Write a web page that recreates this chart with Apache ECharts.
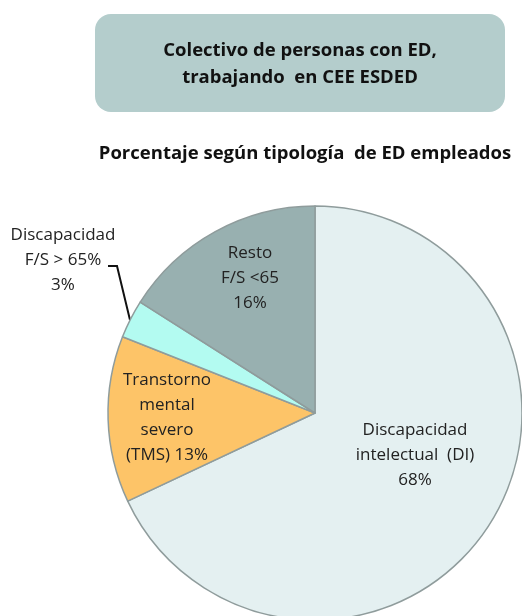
<!DOCTYPE html>
<html>
<head>
<meta charset="utf-8">
<script src="https://cdn.jsdelivr.net/npm/echarts@6/dist/echarts.min.js"></script>
<style>
  html, body { margin: 0; padding: 0; background: #fff; }
  #chart { width: 522px; height: 616px; }
</style>
</head>
<body>
<div id="chart"></div>
<script>
// data
const categories = [
  'Discapacidad\nintelectual  (DI)',
  'Transtorno\nmental\nsevero\n(TMS)',
  'Discapacidad\nF/S > 65%',
  'Resto\nF/S <65',
]
const values = [68, 13, 3, 16]
const colors = ['#e4f0f1', '#fdc468', '#b3fbf1', '#98b0b0']

// label anchor points (layout only)
const labelPos = [
  [415, 455],
  [167, 418],
  [63, 260],
  [250, 278],
]

const chart = echarts.init(document.getElementById('chart'))

const option = {
  backgroundColor: '#fff',
  animation: false,
  graphic: [
    {
      type: 'rect',
      shape: { x: 95, y: 14, width: 410, height: 98, r: 16 },
      style: { fill: '#b4cdcc' },
      z: 0,
    },
    {
      type: 'text',
      x: 300,
      y: 64,
      style: {
        text: 'Colectivo de personas con ED,\ntrabajando  en CEE ESDED',
        fill: '#111',
        font: 'bold 18.5px "Open Sans"',
        lineHeight: 27,
        align: 'center',
        verticalAlign: 'middle',
      },
      z: 1,
    },
  ],
  title: {
    text: 'Porcentaje según tipología  de ED empleados',
    left: 300,
    textAlign: 'center',
    top: 139,
    textStyle: {
      color: '#111',
      fontFamily: 'Open Sans',
      fontWeight: 'bold',
      fontSize: 18.5,
    },
  },
  series: [
    {
      type: 'pie',
      center: [315, 413],
      radius: 207,
      startAngle: 90,
      clockwise: true,
      itemStyle: {
        borderColor: '#8f9c9c',
        borderWidth: 1.5,
      },
      label: {
        show: true,
        position: 'inside',
        color: '#222',
        fontFamily: 'Open Sans',
        fontSize: 17,
        lineHeight: 25,
        align: 'center',
        overflow: 'none',
        formatter: (p) => {
          if (p.dataIndex === 1) return 'Transtorno\nmental\nsevero\n(TMS) ' + p.value + '%'
          return p.name + '\n' + p.value + '%'
        },
      },
      labelLine: { show: false },
      labelLayout: (params) => {
        const pos = labelPos[params.dataIndex]
        const res = { x: pos[0], y: pos[1], align: 'center', verticalAlign: 'middle' }
        if (params.dataIndex === 2) {
          res.labelLinePoints = [[130, 320], [117, 266], [108, 266]]
        }
        return res
      },
      data: categories.map((name, i) => ({
        name,
        value: values[i],
        itemStyle: { color: colors[i] },
        label: i === 2 ? { position: 'outside', overflow: 'none', width: 200 } : undefined,
        labelLine: i === 2 ? { show: true, lineStyle: { color: '#111', width: 2 } } : undefined,
      })),
    },
  ],
}

option && chart.setOption(option)
</script>
</body>
</html>
